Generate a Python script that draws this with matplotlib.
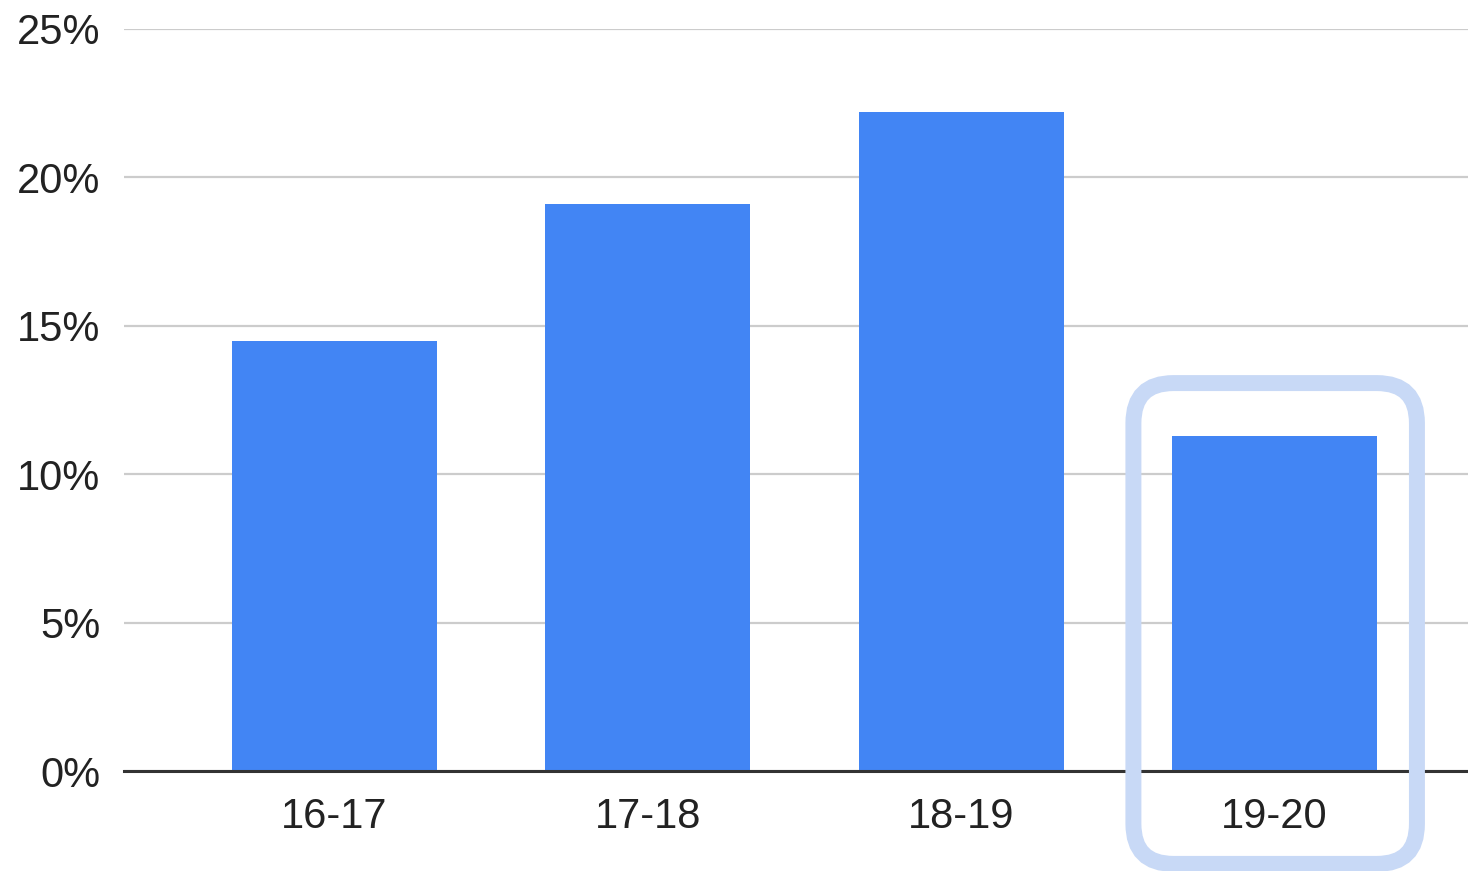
import matplotlib
matplotlib.use("Agg")
import matplotlib.pyplot as plt
from matplotlib.patches import FancyBboxPatch
from matplotlib.ticker import FuncFormatter

seasons = ["16-17", "17-18", "18-19", "19-20"]
shares = [14.5, 19.1, 22.2, 11.3]
y_ticks = [0, 5, 10, 15, 20, 25]
highlight = "19-20"

plt.rcParams['font.family'] = ['Liberation Sans', 'DejaVu Sans']

fig = plt.figure(figsize=(14.68, 8.71), dpi=100)
ax = fig.add_axes([124 / 1468, 1 - 771 / 871, 1 - 124 / 1468, (771 - 29) / 871])

x = list(range(len(seasons)))
ax.bar(x, shares, width=0.655, color="#4285f4", zorder=3)

ax.set_xlim(-0.672, 3.618)
ax.set_ylim(0, 25)
ax.set_yticks(y_ticks)
ax.yaxis.set_major_formatter(FuncFormatter(lambda v, p: "%d%%" % v))
ax.set_xticks(x)
ax.set_xticklabels(seasons)
ax.tick_params(axis="both", length=0, labelsize=30, colors="#222222")
ax.tick_params(axis="y", pad=17)
ax.tick_params(axis="x", pad=19)
ax.grid(axis="y", color="#cccccc", linewidth=1.6, zorder=0)
for side in ["top", "right", "left"]:
    ax.spines[side].set_visible(False)
ax.spines["bottom"].set_color("#333333")
ax.spines["bottom"].set_linewidth(2.2)
ax.spines["bottom"].set_zorder(4)

# rounded highlight around the last season
fig.canvas.draw()
bbox = ax.get_window_extent()
px_per_x = bbox.width / (ax.get_xlim()[1] - ax.get_xlim()[0])
px_per_y = bbox.height / (ax.get_ylim()[1] - ax.get_ylim()[0])
hx = seasons.index(highlight)
radius = 40 / px_per_x
box = FancyBboxPatch((hx - 0.45, -3.13), 0.905, 16.2,
                     boxstyle="round,pad=0,rounding_size=%f" % radius,
                     mutation_aspect=px_per_x / px_per_y,
                     facecolor="none", edgecolor="#c8d9f6", linewidth=11.5,
                     clip_on=False, zorder=5)
ax.add_patch(box)

fig.savefig("out.png", dpi=100)
